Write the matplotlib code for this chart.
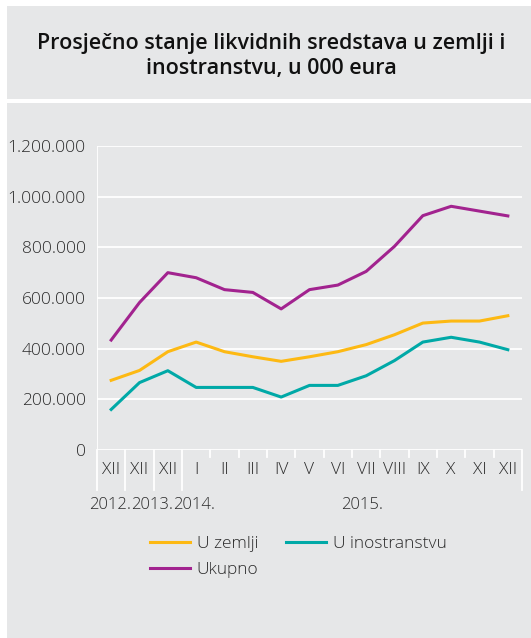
import matplotlib
matplotlib.use("Agg")
import matplotlib.pyplot as plt
from matplotlib.patches import Rectangle
from matplotlib.lines import Line2D

months = ["XII", "XII", "XII", "I", "II", "III", "IV", "V", "VI", "VII", "VIII", "IX", "X", "XI", "XII"]
years = ["2012.", "2013.", "2014.", "2015."]
group_bounds = [-0.5, 0.5, 1.5, 2.5, 14.5]

u_zemlji = [275000, 314000, 388000, 426000, 388000, 368000, 350000, 368000, 388000,
            416000, 455000, 501000, 509000, 509000, 530000]
u_inostranstvu = [160000, 266000, 313000, 247000, 247000, 247000, 209000, 255000, 255000,
                  293000, 353000, 426000, 445000, 426000, 396000]
ukupno = [434000, 582000, 700000, 680000, 633000, 622000, 557000, 633000, 651000,
          705000, 804000, 925000, 962000, 943000, 924000]

yticks = [0, 200000, 400000, 600000, 800000, 1000000, 1200000]
ytick_labels = ["0", "200.000", "400.000", "600.000", "800.000", "1.000.000", "1.200.000"]

title = "Prosječno stanje likvidnih sredstava u zemlji i\ninostranstvu, u 000 eura"

C_Y = "#FDB913"
C_T = "#00A9A7"
C_P = "#A2238F"
BG = "#E6E7E8"
TXT = "#2b2b2b"
FONT = "Open Sans"

W, H = 531, 638
fig = plt.figure(figsize=(W / 100, H / 100), dpi=100)
fig.patch.set_facecolor("white")

fig.add_artist(Rectangle((7 / W, 1 - 99 / H), 1 - 7 / W, 93 / H, transform=fig.transFigure,
                         facecolor=BG, edgecolor="none", zorder=0))
fig.add_artist(Rectangle((7 / W, 0), 1 - 7 / W, 1 - 103 / H, transform=fig.transFigure,
                         facecolor=BG, edgecolor="none", zorder=0))

fig.text(271 / W, 1 - 56 / H, title, ha="center", va="center", fontsize=15.5,
         fontweight="semibold", family=FONT, color="#111111", linespacing=1.25)

ax = fig.add_axes([97 / W, 1 - 450 / H, (522 - 97) / W, (450 - 146) / H])
ax.patch.set_alpha(0)
for s in ax.spines.values():
    s.set_visible(False)

x = list(range(len(months)))
ax.plot(x, u_zemlji, color=C_Y, lw=2.2, label="U zemlji", solid_joinstyle="round", zorder=3)
ax.plot(x, u_inostranstvu, color=C_T, lw=2.2, label="U inostranstvu", solid_joinstyle="round", zorder=3)
ax.plot(x, ukupno, color=C_P, lw=2.2, label="Ukupno", solid_joinstyle="round", zorder=3)

ax.set_xlim(-0.5, len(months) - 0.5)
ax.set_ylim(0, 1200000)
ax.set_yticks(yticks)
ax.set_yticklabels(ytick_labels)
ax.grid(axis="y", color="white", lw=1.3, zorder=1)
ax.tick_params(axis="y", length=0, pad=8, labelsize=12.5, labelcolor=TXT)
for lab in ax.get_yticklabels():
    lab.set_family(FONT)
    lab.set_fontweight("light")

ax.set_xticks(x)
ax.set_xticklabels(months)
ax.tick_params(axis="x", length=0, pad=9, labelsize=12.5, labelcolor=TXT)
for lab in ax.get_xticklabels():
    lab.set_family(FONT)
    lab.set_fontweight("light")

ax.axvline(-0.5, color="white", lw=1.3, zorder=1)

trans = ax.get_xaxis_transform()
for b in [i - 0.5 for i in range(len(months) + 1)]:
    long_ = b in group_bounds
    y0 = -40 / 304 if long_ else -7 / 304
    ax.add_line(Line2D([b, b], [0, y0], transform=trans, color="white", lw=1.3,
                       clip_on=False, zorder=1))

ykw = dict(fontsize=12, family=FONT, fontweight="light", color=TXT)
prev = ax.text(-0.79, -55 / 304, years[0], transform=trans, ha="left", va="center", **ykw)
for yl in years[1:3]:
    prev = ax.annotate(yl, xy=(1, 0), xycoords=prev, ha="left", va="bottom", **ykw)
ax.text(8.85, -55 / 304, years[3], transform=trans, ha="center", va="center", **ykw)

h, l = ax.get_legend_handles_labels()
order = [0, 2, 1]
leg = fig.legend([h[i] for i in order], [l[i] for i in order], ncol=2,
                 loc="upper left", bbox_to_anchor=(150 / W, 1 - 536 / H),
                 frameon=False, fontsize=12.5, handlelength=2.3, handletextpad=0.4,
                 columnspacing=1.6, labelspacing=0.55, borderaxespad=0, borderpad=0)
for t in leg.get_texts():
    t.set_family(FONT)
    t.set_fontweight("light")
    t.set_color(TXT)

fig.savefig("out.png", dpi=100, facecolor=fig.get_facecolor())
